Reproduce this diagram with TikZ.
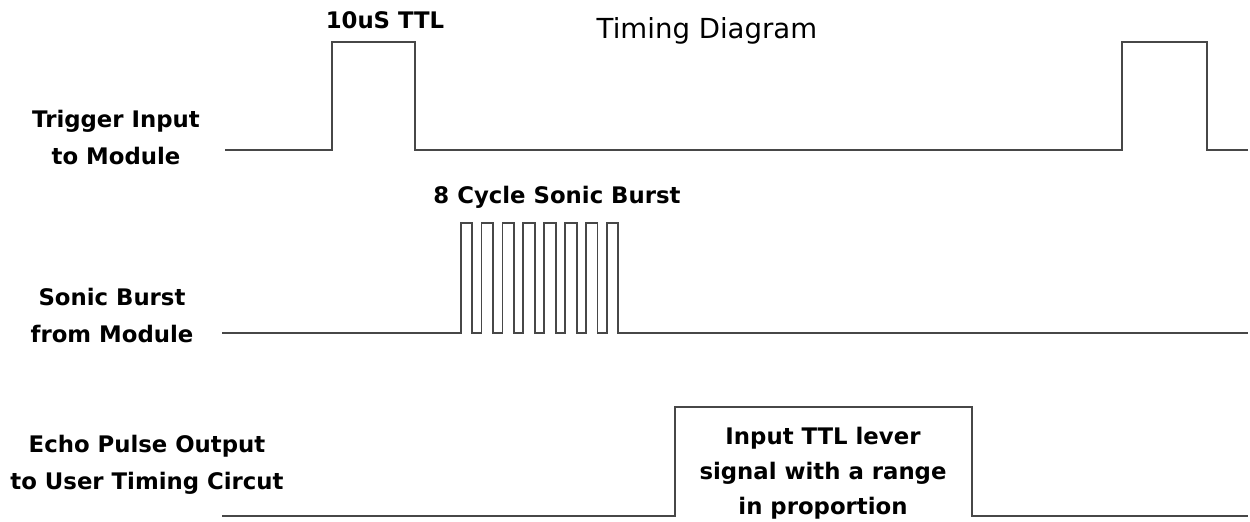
\documentclass[tikz,border=0pt]{standalone}
\usepackage{fontspec}
\setmainfont{DejaVu Sans}
\usepackage{tikz}

\begin{document}
\begin{tikzpicture}[x=0.5pt, y=-0.5pt,
  wave/.style={line width=1.1pt, draw=black!72},
  lbl/.style={font=\fontsize{11.4}{18.5}\selectfont\bfseries, align=center, inner sep=0pt}]
\useasboundingbox (0,0) rectangle (1250,522);

% trigger
\draw[wave] (225,150) -- (332,150) -- (332,42) -- (415,42) -- (415,150) -- (1122,150) -- (1122,42) -- (1207,42) -- (1207,150) -- (1248,150);

% sonic burst, 8 cycles
\draw[wave, line width=0.9pt] (222,333) -- (460.7,333)
  \foreach \i in {0,...,7} { -- ++(0,-110) -- ++(11.6,0) -- ++(0,110) \ifnum\i<7 -- ++(9.26,0)\fi }
  -- (1248,333);

% echo
\draw[wave] (222,516) -- (675,516) -- (675,407) -- (972,407) -- (972,516) -- (1248,516);

\node[lbl] (trig) at (116,138) {Trigger Input\\to Module};

\node[lbl] (sonic) at (112,316) {Sonic Burst\\from Module};

\node[lbl] (echo) at (147,465) {Echo Pulse Output\\to User Timing Circut};

\node[lbl] (ttl) at (385,20) {10uS TTL};

\node[font=\fontsize{13.8}{16}\selectfont, inner sep=0pt] (title) at (707,31) {Timing Diagram};

\node[lbl] (burst) at (557,197) {8 Cycle Sonic Burst};

\node[lbl, font=\fontsize{11.4}{17.5}\selectfont\bfseries] (range) at (823,473) {Input TTL lever\\signal with a range\\in proportion};
\end{tikzpicture}
\end{document}
